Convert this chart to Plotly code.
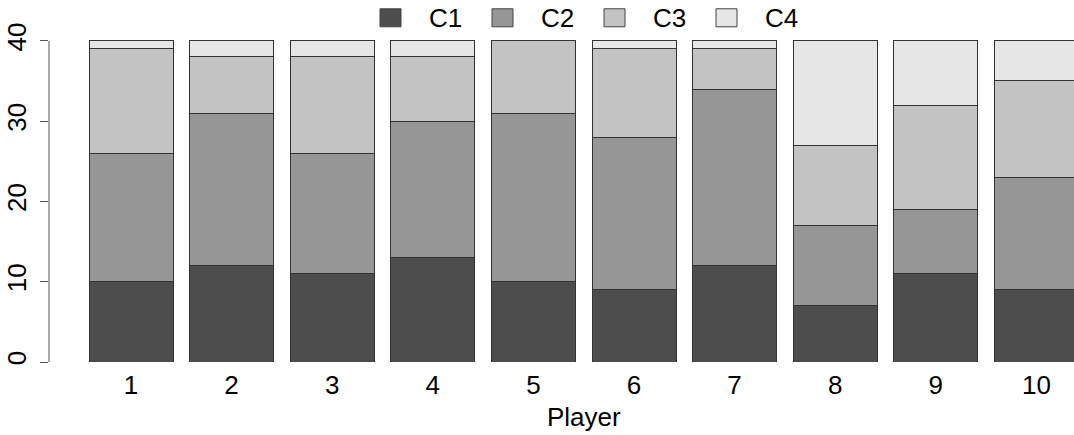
import plotly.graph_objects as go

# Stacked counts per player for the four categories
players = ["1", "2", "3", "4", "5", "6", "7", "8", "9", "10"]
series_names = ["C1", "C2", "C3", "C4"]
c1 = [10, 12, 11, 13, 10, 9, 12, 7, 11, 9]
c2 = [16, 19, 15, 17, 21, 19, 22, 10, 8, 14]
c3 = [13, 7, 12, 8, 9, 11, 5, 10, 13, 12]
c4 = [1, 2, 2, 2, 0, 1, 1, 13, 8, 5]
y_ticks = [0, 10, 20, 30, 40]

colors = ["#4D4D4D", "#969696", "#C3C3C3", "#E6E6E6"]
font_family = "Liberation Sans, Arial, sans-serif"
fsize = 26

W, H = 1074, 435
left, top, bottom = 49, 28.2, 362  # plot area in pixels


def px_x(p):
    return (p - left) / (W - left)


def px_y(p):
    return (bottom - p) / (bottom - top)


fig = go.Figure()
for name, vals, col in zip(series_names, [c1, c2, c3, c4], colors):
    fig.add_trace(go.Bar(
        x=players, y=vals, name=name,
        marker=dict(color=col, line=dict(color="#333333", width=1)),
        showlegend=False,
    ))

# y axis line spanning only the tick range
fig.add_shape(type="line", xref="paper", yref="y",
              x0=0, x1=0, y0=y_ticks[0], y1=y_ticks[-1],
              line=dict(color="#555555", width=1))

# Legend row across the top
legend_x0 = 380
legend_step = 112
for i, (name, col) in enumerate(zip(series_names, colors)):
    sx = legend_x0 + i * legend_step
    fig.add_shape(type="rect", xref="paper", yref="paper",
                  x0=px_x(sx), x1=px_x(sx + 21),
                  y0=px_y(27), y1=px_y(9),
                  fillcolor=col, line=dict(color="#444444", width=1))
    fig.add_annotation(xref="paper", yref="paper",
                       x=px_x(sx + 47), y=px_y(18),
                       text=name, showarrow=False, xanchor="left", yanchor="middle",
                       font=dict(size=fsize, color="#000000", family=font_family))

# x axis title, centred on the full bar region
fig.add_annotation(xref="paper", yref="paper",
                   x=px_x(584), y=px_y(417),
                   text="Player", showarrow=False, xanchor="center", yanchor="middle",
                   font=dict(size=fsize, color="#000000", family=font_family))

step = 100.6
first_center = 131
fig.update_layout(
    width=W, height=H,
    margin=dict(l=left, r=0, t=top, b=H - bottom, pad=0),
    paper_bgcolor="white", plot_bgcolor="white",
    barmode="stack", bargap=1 - 84 / step,
    font=dict(family=font_family, size=fsize, color="#000000"),
    xaxis=dict(
        type="category",
        range=[-(first_center - left) / step, (W - first_center) / step],
        showline=False, showgrid=False, zeroline=False, ticks="",
        ticklabelstandoff=5,
        tickfont=dict(size=fsize),
    ),
    yaxis=dict(
        range=[0, 41.6], showline=False, showgrid=False, zeroline=False,
        tickvals=y_ticks, ticks="outside", ticklen=8, tickcolor="#555555",
        tickangle=-90, tickfont=dict(size=fsize), ticklabelstandoff=4,
    ),
)

fig.write_html("out.html")
